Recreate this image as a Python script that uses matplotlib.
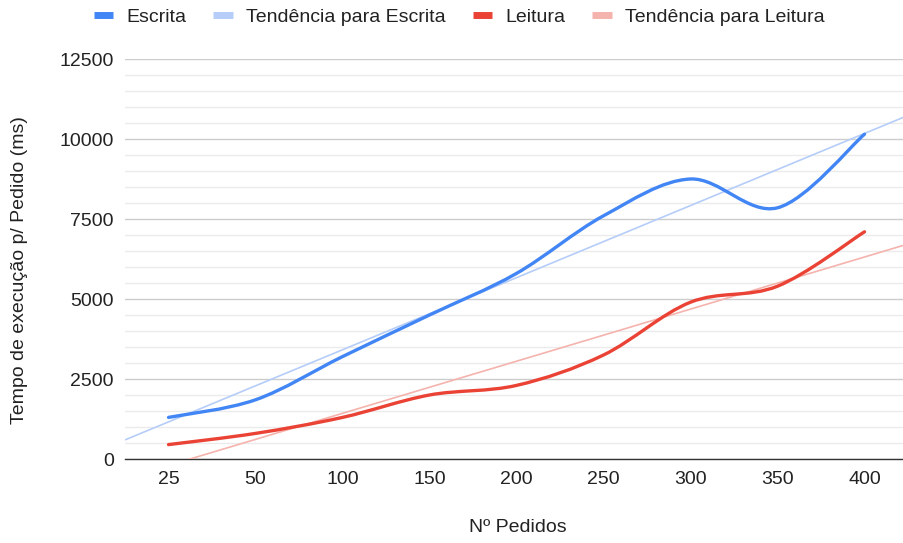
import numpy as np
import matplotlib
matplotlib.use("Agg")
import matplotlib.pyplot as plt
from matplotlib.path import Path
from matplotlib.patches import PathPatch
from matplotlib.lines import Line2D

categories = ["25", "50", "100", "150", "200", "250", "300", "350", "400"]
escrita = [1300, 1850, 3200, 4500, 5800, 7600, 8750, 7850, 10150]
leitura = [450, 800, 1300, 2000, 2300, 3250, 4900, 5400, 7100]
yticks = [0, 2500, 5000, 7500, 10000, 12500]

BLUE = "#4285F4"
RED = "#EA4335"
BLUE_T = "#b5cdf8"
RED_T = "#f5b3ad"

plt.rcParams['font.family'] = ['Liberation Sans', 'DejaVu Sans']
FS = 14

W, H = 904, 543
fig = plt.figure(figsize=(W / 100, H / 100), dpi=100)
left, right = 125, 908
top, bottom = 59, 459
ax = fig.add_axes([left / W, 1 - bottom / H, (right - left) / W, (bottom - top) / H])

x = np.arange(len(categories))


def smooth_path(xs, ys, t=1 / 6):
    xs = np.asarray(xs, float)
    ys = np.asarray(ys, float)
    n = len(xs)
    verts = [(xs[0], ys[0])]
    codes = [Path.MOVETO]
    for i in range(n - 1):
        p0 = (xs[max(i - 1, 0)], ys[max(i - 1, 0)])
        p1 = (xs[i], ys[i])
        p2 = (xs[i + 1], ys[i + 1])
        p3 = (xs[min(i + 2, n - 1)], ys[min(i + 2, n - 1)])
        c1 = (p1[0] + (p2[0] - p0[0]) * t, p1[1] + (p2[1] - p0[1]) * t)
        c2 = (p2[0] - (p3[0] - p1[0]) * t, p2[1] - (p3[1] - p1[1]) * t)
        verts += [c1, c2, p2]
        codes += [Path.CURVE4] * 3
    return Path(verts, codes)


xlim = (-0.5, 8.5)
# trend lines
for ys, col in [(escrita, BLUE_T), (leitura, RED_T)]:
    m, b = np.polyfit(x, ys, 1)
    xx = np.array(xlim)
    ax.plot(xx, m * xx + b, color=col, lw=1.2, zorder=3, solid_capstyle='butt')

for ys, col in [(escrita, BLUE), (leitura, RED)]:
    ax.add_patch(PathPatch(smooth_path(x, ys), facecolor='none', edgecolor=col,
                           lw=2.4, zorder=4, capstyle='round'))

ax.set_xlim(*xlim)
ax.set_ylim(0, 12500)
ax.set_yticks(yticks)
ax.set_yticklabels([str(v) for v in yticks])
ax.set_yticks(np.arange(0, 12501, 500), minor=True)
ax.set_xticks(x)
ax.set_xticklabels(categories)
ax.grid(axis='y', which='major', color='#cccccc', lw=1.0, zorder=0)
ax.grid(axis='y', which='minor', color='#ebebeb', lw=1.0, zorder=0)
ax.set_axisbelow(True)
for s in ['top', 'right', 'left']:
    ax.spines[s].set_visible(False)
ax.spines['bottom'].set_color('#333333')
ax.spines['bottom'].set_linewidth(1.0)
ax.tick_params(axis='both', which='both', length=0, labelsize=FS, colors='#222222')
ax.tick_params(axis='y', pad=8)
ax.tick_params(axis='x', pad=9)

fig.text(518 / W, 1 - 528 / H, "Nº Pedidos", ha='center', va='center', fontsize=FS, color='#222222')
fig.text(20 / W, 1 - 270 / H, "Tempo de execução p/ Pedido (ms)", ha='center', va='center',
         rotation=90, fontsize=FS, color='#222222')

handles = [Line2D([], [], color=BLUE, lw=5, solid_capstyle='butt'),
           Line2D([], [], color=BLUE_T, lw=5, solid_capstyle='butt'),
           Line2D([], [], color=RED, lw=5, solid_capstyle='butt'),
           Line2D([], [], color=RED_T, lw=5, solid_capstyle='butt')]
labels = ["Escrita", "Tendência para Escrita", "Leitura", "Tendência para Leitura"]
leg = fig.legend(handles, labels, loc='center', bbox_to_anchor=(459 / W, 1 - 17 / H),
                 ncol=4, frameon=False, fontsize=FS, handlelength=1.0,
                 handletextpad=0.67, columnspacing=1.4, labelcolor='#222222')

fig.savefig("out.png", dpi=100)
